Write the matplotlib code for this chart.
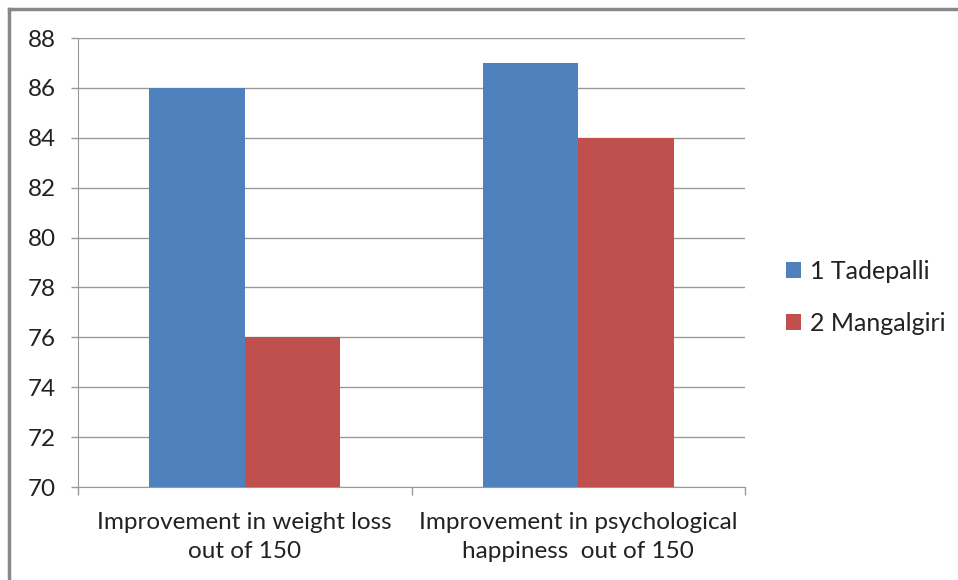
import numpy as np
import matplotlib.pyplot as plt
from matplotlib.lines import Line2D

categories = ['Improvement in weight loss\nout of 150', 'Improvement in psychological\nhappiness  out of 150']
series_names = ['1 Tadepalli', '2 Mangalgiri']
tadepalli = [86, 87]
mangalgiri = [76, 84]
colors = ['#4F81BD', '#C0504D']

plt.rcParams['font.family'] = ['Lato', 'DejaVu Sans']

W, H = 958, 580
fig = plt.figure(figsize=(W / 100, H / 100), dpi=100)
ax = fig.add_axes([78 / W, 1 - 487 / H, (745 - 78) / W, (487 - 38) / H])

x = np.arange(len(categories))
width = 1 / 3.5
ax.bar(x - width / 2, tadepalli, width, color=colors[0], label=series_names[0], zorder=3)
ax.bar(x + width / 2, mangalgiri, width, color=colors[1], label=series_names[1], zorder=3)

ax.set_ylim(70, 88)
ax.set_yticks(np.arange(70, 89, 2))
ax.set_xlim(-0.5, len(categories) - 0.5)
ax.set_xticks(x)
ax.set_xticklabels(categories, fontsize=17.5, color='#222222', linespacing=1.5)
ax.set_xticks(np.arange(-0.5, len(categories)), minor=True)
ax.tick_params(axis='x', which='major', length=0, pad=18)
ax.tick_params(axis='x', which='minor', length=6, color='#999999', width=1)
ax.tick_params(axis='y', length=5, color='#999999', width=1, labelsize=17.5, pad=11, labelcolor='#222222')

ax.grid(axis='y', color='#999999', linewidth=1, zorder=0)
for s in ['top', 'right']:
    ax.spines[s].set_visible(False)
ax.spines['left'].set_color('#999999')
ax.spines['bottom'].set_color('#999999')

leg = ax.legend(loc='center left', bbox_to_anchor=(1.028, 0.422), frameon=False, fontsize=18,
                handlelength=0.6, handleheight=0.6, handletextpad=0.35, labelspacing=1.15,
                labelcolor='#222222')

# outer frame of the chart area
fig.add_artist(Line2D([9 / W, 1], [1 - 9 / H, 1 - 9 / H], color='#888888', linewidth=2.5))
fig.add_artist(Line2D([9 / W, 9 / W], [0, 1 - 9 / H], color='#888888', linewidth=2.5))

fig.savefig('out.png', dpi=100)
